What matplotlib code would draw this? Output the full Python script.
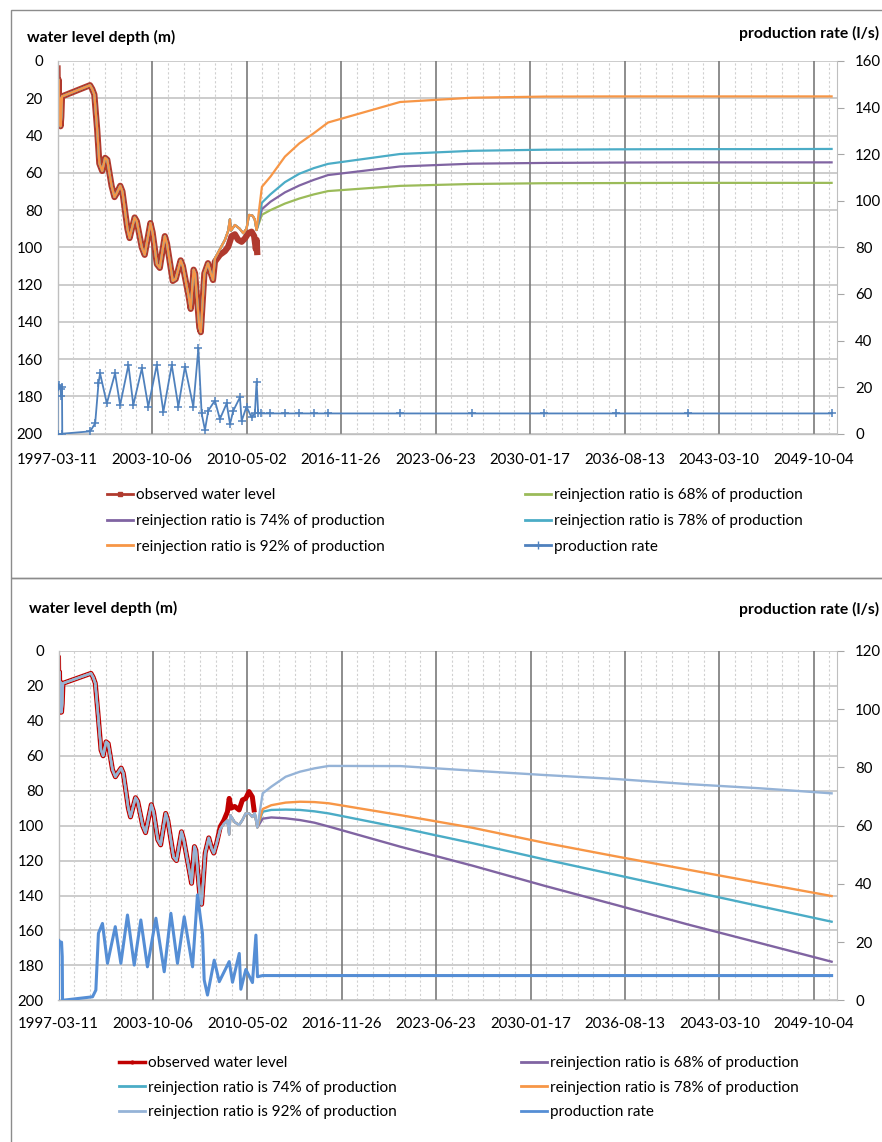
import numpy as np
import pandas as pd
import matplotlib
matplotlib.use("Agg")
import matplotlib.pyplot as plt
from matplotlib.lines import Line2D
from matplotlib.patches import Rectangle

plt.rcParams['font.family'] = ['Lato', 'DejaVu Sans']

# ---------------- data ----------------
tick_labels = ["1997-03-11", "2003-10-06", "2010-05-02", "2016-11-26", "2023-06-23",
               "2030-01-17", "2036-08-13", "2043-03-10", "2049-10-04"]

# top chart: observed water level depth (m), decimal years
obs1_yr = [1997.19, 1997.22, 1997.26, 1997.30, 1997.35, 1997.40, 1997.45, 1997.50, 1999.45, 1999.60,
           1999.75, 1999.95, 2000.10, 2000.30, 2000.50, 2000.65, 2000.95, 2001.15, 2001.30, 2001.55,
           2001.70, 2002.05, 2002.20, 2002.55, 2002.70, 2003.05, 2003.25, 2003.65, 2003.80, 2004.10,
           2004.30, 2004.65, 2004.80, 2005.20, 2005.40, 2005.75, 2005.90, 2006.30, 2006.45, 2006.65,
           2006.75, 2007.05, 2007.15, 2007.40, 2007.65, 2007.85, 2008.00, 2008.13, 2008.48, 2008.83,
           2009.06, 2009.29, 2009.52, 2009.75, 2009.99, 2010.22, 2010.45, 2010.68, 2010.86, 2010.98,
           2011.03, 2011.07]
obs1_d = [4, 30, 10, 34, 20, 35, 30, 19, 13, 15,
          18, 37, 55, 59, 52, 53, 67, 73, 71, 67,
          70, 90, 95, 84, 86, 100, 104, 87, 92, 109,
          111, 94, 98, 118, 117, 107, 110, 126, 133, 112,
          114, 143, 145.5, 114, 108.5, 114, 117.5, 107.7, 104, 102,
          99.6, 94, 93, 96, 97, 95.2, 92.4, 91.6, 94, 101,
          96, 102.5]
# simulated history follows the observation until early 2008, then:
sim1_late_yr = [2008.13, 2008.48, 2008.83, 2009.06, 2009.17, 2009.25, 2009.52, 2009.85, 2010.10,
                2010.33, 2010.50, 2010.75, 2010.90]
sim1_late_d = [106, 101, 96, 91, 85, 91, 88, 90, 92.4, 90, 82.6, 83, 85]

proj_yr = [2011.03, 2011.40, 2012.0, 2013.0, 2014.0, 2015.0, 2016.0, 2021.0, 2026.0, 2031.0,
           2036.0, 2041.0, 2046.0, 2051.0]
top_r68 = [90.7, 82.5, 80.0, 76.5, 73.8, 71.6, 69.8, 67.0, 66.0, 65.6, 65.5, 65.4, 65.4, 65.4]
top_r74 = [90.7, 79.5, 75.5, 70.5, 66.8, 63.8, 61.2, 56.6, 55.1, 54.7, 54.5, 54.4, 54.4, 54.4]
top_r78 = [90.7, 76.0, 71.5, 65.0, 60.5, 57.5, 55.2, 49.9, 48.2, 47.6, 47.4, 47.3, 47.3, 47.2]
top_r92 = [90.7, 67.5, 62.0, 51.3, 44.2, 38.8, 33.0, 22.0, 19.7, 19.1, 19.0, 19.0, 19.0, 19.0]

prod1_yr = [1997.19, 1997.20, 1997.30, 1997.40, 1997.45, 1997.50, 1997.52, 1999.46, 1999.81, 2000.04,
            2000.15, 2000.62, 2001.19, 2001.54, 2002.12, 2002.46, 2003.05, 2003.50, 2004.09, 2004.55,
            2005.13, 2005.59, 2006.05, 2006.63, 2006.98, 2007.21, 2007.44, 2007.67, 2008.13, 2008.48,
            2008.95, 2009.18, 2009.41, 2009.87, 2009.99, 2010.33, 2010.68, 2010.91, 2011.03, 2011.14,
            2011.37, 2011.95, 2013.0, 2014.0, 2015.0, 2016.0, 2021.0, 2026.0, 2031.0, 2036.0,
            2041.0, 2051.0]
prod1_q = [0, 20, 21, 19, 16, 20, 0, 1, 4.5, 21.6,
           25.9, 13, 25.9, 12.3, 29.5, 12.3, 28, 11.6, 29.5, 9.4,
           29.5, 11.6, 28.8, 11.6, 36.6, 8.7, 1.6, 9.9, 14.2, 6.3,
           13, 4.2, 9.9, 15.6, 5.5, 11.6, 7, 8.7, 22.3, 8.7,
           8.7, 8.7, 8.7, 8.7, 8.7, 8.7, 8.7, 8.7, 8.7, 8.7,
           8.7, 8.7]

# bottom chart
obs2_yr = [1997.19, 1997.22, 1997.26, 1997.30, 1997.35, 1997.40, 1997.45, 1997.50, 1999.45, 1999.60,
           1999.75, 1999.95, 2000.15, 2000.30, 2000.50, 2000.65, 2000.95, 2001.15, 2001.30, 2001.55,
           2001.70, 2002.05, 2002.20, 2002.55, 2002.70, 2003.05, 2003.25, 2003.65, 2003.80, 2004.10,
           2004.30, 2004.65, 2004.80, 2005.20, 2005.40, 2005.75, 2005.90, 2006.30, 2006.45, 2006.65,
           2006.75, 2007.05, 2007.15, 2007.40, 2007.65, 2007.85, 2008.00, 2008.20, 2008.45, 2008.70,
           2008.95, 2009.07, 2009.20, 2009.45, 2009.76, 2009.99, 2010.22, 2010.45, 2010.68, 2010.80]
obs2_d = [4, 28, 12, 35, 18, 35, 30, 18.5, 12.8, 15,
          18.5, 37, 56.7, 60, 52, 53, 68, 72, 70, 67,
          70, 90, 95, 84, 86, 100, 104, 88, 92, 108,
          111, 93, 97, 118, 120, 103.5, 108, 126, 133, 112,
          114, 142, 145, 115.7, 107, 113, 115.7, 110, 100.6, 97,
          92, 84.4, 90, 89, 91, 85.3, 84.4, 80.5, 83.5, 91]
sim2_late_yr = [2008.20, 2008.45, 2008.70, 2008.95, 2009.07, 2009.15, 2009.45, 2009.76, 2009.99,
                2010.22, 2010.45, 2010.68, 2010.85]
sim2_late_d = [110, 102, 99, 97, 105, 94, 98, 99.6, 96.8, 93, 93, 95, 93]

bot_r68 = [101, 96.0, 95.3, 95.8, 96.8, 98.3, 100.5, 112.1, 122.9, 134.4, 145.4, 156.6, 167.2, 177.9]
bot_r74 = [101, 92.0, 91.0, 90.8, 91.0, 91.8, 93.0, 101.2, 110.0, 119.3, 128.2, 137.2, 146.1, 155.0]
bot_r78 = [101, 90.5, 88.3, 86.8, 86.3, 86.5, 87.2, 94.0, 101.2, 109.8, 117.6, 125.2, 132.8, 140.3]
bot_r92 = [101, 81.5, 77.7, 72.0, 69.1, 67.2, 65.8, 65.9, 68.5, 71.0, 73.3, 76.2, 78.6, 81.5]

prod2_yr = [1997.19, 1997.20, 1997.30, 1997.40, 1997.45, 1997.47, 1999.56, 1999.79, 1999.97, 2000.25,
            2000.60, 2001.14, 2001.53, 2001.99, 2002.46, 2002.92, 2003.38, 2003.97, 2004.55, 2005.01,
            2005.47, 2005.94, 2006.52, 2006.86, 2007.21, 2007.33, 2007.56, 2008.03, 2008.38, 2009.07,
            2009.30, 2009.77, 2009.88, 2010.23, 2010.69, 2010.93, 2011.04, 2011.40, 2016.0, 2051.0]
prod2_q = [0, 20.7, 19.6, 20, 15, 0, 1.2, 3.5, 23, 26.4,
           12.7, 25.3, 12.7, 29.3, 12.1, 27.6, 11.5, 28.2, 9.8, 29.9,
           12.7, 28.7, 11.5, 36.2, 23, 7, 1.8, 13.8, 6.4, 13.3,
           6.2, 16.1, 3.8, 10.6, 6.1, 22.4, 8.1, 8.5, 8.5, 8.5]


def yr2date(y):
    y = np.asarray(y, float)
    base = pd.to_datetime(np.floor(y).astype(int).astype(str), format="%Y")
    return base + pd.to_timedelta((y - np.floor(y)) * 365.25, unit="D")


tick_pos = pd.to_datetime(tick_labels)
x_start = tick_pos[0]
x_end = tick_pos[-1] + pd.Timedelta(days=591)
minor_pos = pd.date_range(x_start, x_end, freq="400D")

# ---------------- figure ----------------
W, H = 882, 1142
fig = plt.figure(figsize=(W / 100, H / 100), dpi=100)


def fx(px):
    return px / W


def fy(py):
    return 1 - py / H


for y0, y1 in [(10, 578), (578, 1160)]:
    fig.patches.append(Rectangle((fx(11), fy(y1)), fx(900), (y1 - y0) / H,
                                 transform=fig.transFigure, fill=False, ec="#8c8c8c", lw=1.0))

TICK_FS = 10.8
LEG_FS = 11.0
TITLE_FS = 11.3


def make_axes(left, top, right, bottom, rmax, xpad):
    ax = fig.add_axes([fx(left), fy(bottom), (right - left) / W, (bottom - top) / H])
    ax.set_xlim(x_start, x_end)
    ax.set_ylim(200, 0)
    ax.set_yticks(np.arange(0, 201, 20))
    ax.set_xticks(tick_pos)
    ax.set_xticklabels(tick_labels)
    ax.set_xticks(minor_pos, minor=True)
    ax.yaxis.grid(True, color="#c8c8c8", lw=1.3)
    ax.xaxis.grid(True, which="major", color="#7a7a7a", lw=1.2)
    ax.xaxis.grid(True, which="minor", color="#d0d0d0", lw=0.8, ls=(0, (2, 2)))
    ax.set_axisbelow(True)
    ax.xaxis.set_zorder(0.6)
    ax.tick_params(axis="both", which="both", length=0)
    ax.tick_params(axis="y", pad=10.5, labelsize=TICK_FS)
    ax.tick_params(axis="x", pad=xpad, labelsize=TICK_FS)
    ax.spines["top"].set_visible(False)
    ax.spines["right"].set_visible(False)
    for s in ["left", "bottom"]:
        ax.spines[s].set_color("#bfbfbf")
        ax.spines[s].set_linewidth(1.0)

    ax2 = ax.twinx()
    ax2.set_ylim(0, rmax)
    ax2.set_yticks(np.arange(0, rmax + 1, 20))
    ax2.tick_params(axis="y", length=5, color="#a6a6a6", pad=8, labelsize=TICK_FS)
    for s in ["top", "left", "bottom"]:
        ax2.spines[s].set_visible(False)
    ax2.spines["right"].set_color("#bfbfbf")
    return ax, ax2


leg_kw = dict(loc="upper left", frameon=False, borderpad=0, borderaxespad=0, handlelength=1.7,
              handletextpad=0.2, fontsize=LEG_FS)
h = lambda c: Line2D([], [], color=c, lw=2)

# ---------------- top chart ----------------
ax, ax2 = make_axes(57.5, 61, 837, 433.7, 160, 14)
hist1_yr = obs1_yr[:47] + sim1_late_yr
hist1_d = obs1_d[:47] + sim1_late_d

ax.plot(yr2date(obs1_yr), obs1_d, color="#B03A2E", lw=4.5, solid_joinstyle="round")
for vals, col in [(top_r68, "#9BBB59"), (top_r74, "#8064A2"), (top_r78, "#4BACC6"), (top_r92, "#F79646")]:
    ax.plot(yr2date(hist1_yr + proj_yr), hist1_d + vals, color=col, lw=1.6)
ax2.plot(yr2date(prod1_yr), prod1_q, color="#4F81BD", lw=1.3, marker="+", ms=6, mew=1.1)

fig.text(fx(27), fy(37), "water level depth (m)", weight="bold", fontsize=TITLE_FS, va="center")
fig.text(fx(879), fy(33), "production rate (l/s)", weight="bold", fontsize=TITLE_FS, va="center", ha="right")

h_obs1 = Line2D([], [], color="#B03A2E", lw=2, marker="s", ms=3)
h_prod1 = Line2D([], [], color="#4F81BD", lw=2, marker="+", ms=6)
fig.legend([h_obs1, h("#8064A2"), h("#F79646")],
           ["observed water level", "reinjection ratio is 74% of production",
            "reinjection ratio is 92% of production"],
           bbox_to_anchor=(fx(107), fy(488)), labelspacing=0.78, **leg_kw)
fig.legend([h("#9BBB59"), h("#4BACC6"), h_prod1],
           ["reinjection ratio is 68% of production", "reinjection ratio is 78% of production",
            "production rate"],
           bbox_to_anchor=(fx(525), fy(488)), labelspacing=0.78, **leg_kw)

# ---------------- bottom chart ----------------
bx, bx2 = make_axes(58.5, 651, 837, 1000.3, 120, 12)
hist2_yr = obs2_yr[:47] + sim2_late_yr
hist2_d = obs2_d[:47] + sim2_late_d

bx.plot(yr2date(obs2_yr), obs2_d, color="#C00000", lw=3.6, solid_joinstyle="round")
for vals, col in [(bot_r68, "#8064A2"), (bot_r74, "#4BACC6"), (bot_r78, "#F79646"), (bot_r92, "#95B3D7")]:
    bx.plot(yr2date(hist2_yr + proj_yr), hist2_d + vals, color=col, lw=1.7)
bx2.plot(yr2date(prod2_yr), prod2_q, color="#558ED5", lw=2.2)

fig.text(fx(29), fy(608), "water level depth (m)", weight="bold", fontsize=TITLE_FS, va="center")
fig.text(fx(879), fy(609), "production rate (l/s)", weight="bold", fontsize=TITLE_FS, va="center", ha="right")

h_obs2 = Line2D([], [], color="#C00000", lw=2.5, marker=".", ms=4)
fig.legend([h_obs2, h("#4BACC6"), h("#95B3D7")],
           ["observed water level", "reinjection ratio is 74% of production",
            "reinjection ratio is 92% of production"],
           bbox_to_anchor=(fx(119), fy(1056)), labelspacing=0.7, **leg_kw)
fig.legend([h("#8064A2"), h("#F79646"), h("#558ED5")],
           ["reinjection ratio is 68% of production", "reinjection ratio is 78% of production",
            "production rate"],
           bbox_to_anchor=(fx(521), fy(1056)), labelspacing=0.7, **leg_kw)

fig.savefig("out.png", dpi=100)
